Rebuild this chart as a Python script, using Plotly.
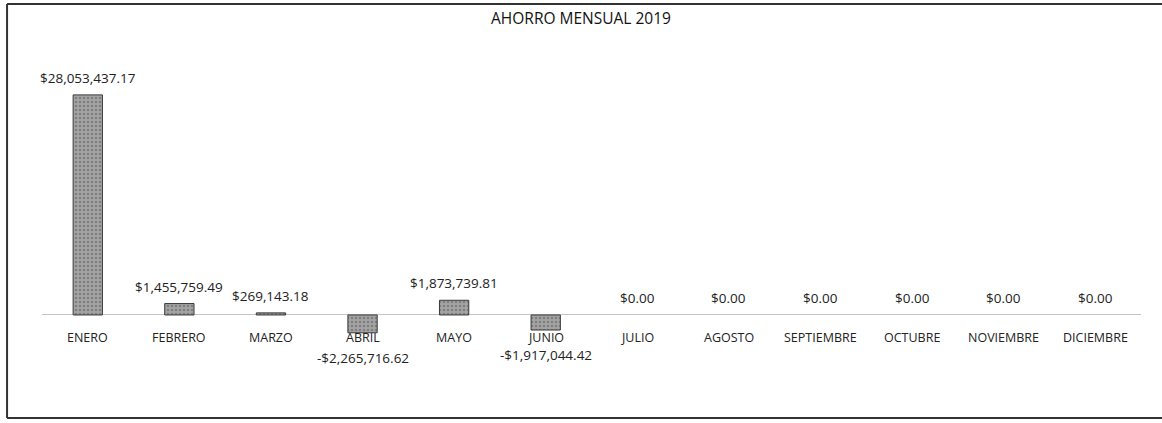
import plotly.graph_objects as go

months = ["ENERO", "FEBRERO", "MARZO", "ABRIL", "MAYO", "JUNIO", "JULIO",
          "AGOSTO", "SEPTIEMBRE", "OCTUBRE", "NOVIEMBRE", "DICIEMBRE"]
savings = [28053437.17, 1455759.49, 269143.18, -2265716.62, 1873739.81,
           -1917044.42, 0.0, 0.0, 0.0, 0.0, 0.0, 0.0]
title_text = "AHORRO MENSUAL 2019"


def money(v):
    s = "${:,.2f}".format(abs(v))
    return "-" + s if v < 0 else s


FONT = "Open Sans"

fig = go.Figure()
fig.add_trace(go.Bar(
    x=months, y=savings,
    marker=dict(color="#a4a4a4",
                line=dict(color="#3a3a3a", width=[1 if v != 0 else 0 for v in savings]),
                pattern=dict(shape=".", fgcolor="#5a5a5a", size=4, solidity=0.35)),
    width=0.32, hoverinfo="skip",
))

annotations = []
for m, v in zip(months, savings):
    annotations.append(dict(x=m, y=v, text=money(v), showarrow=False,
                            xref="x", yref="y",
                            yanchor="bottom" if v >= 0 else "top",
                            yshift=6 if v >= 0 else -14,
                            font=dict(family=FONT, size=13.5, color="#222222")))
    annotations.append(dict(x=m, y=0, text=m, showarrow=False, xref="x", yref="y",
                            yanchor="top", yshift=-12,
                            font=dict(family=FONT, size=12.5, color="#222222")))

fig.update_layout(
    width=1162, height=423,
    margin=dict(l=42, r=21, t=60, b=28),
    paper_bgcolor="white", plot_bgcolor="white",
    showlegend=False,
    title=dict(text=title_text, x=0.5, xanchor="center", y=1 - 19 / 423,
               yanchor="middle", font=dict(family=FONT, size=15.5, color="#111111")),
    xaxis=dict(showticklabels=False, showline=False, showgrid=False, ticks="",
               range=[-0.5, 11.5]),
    yaxis=dict(range=[-10.2e6, 32.5e6], showticklabels=False, showgrid=False,
               showline=False, ticks="", zeroline=True, zerolinecolor="#c4c4c4",
               zerolinewidth=1),
    annotations=annotations,
    shapes=[
        dict(type="line", xref="paper", yref="paper", x0=-0.0318, x1=-0.0318,
             y0=-0.0687, y1=1.167, line=dict(color="#333333", width=2)),
        dict(type="line", xref="paper", yref="paper", x0=-0.0318, x1=1.05,
             y0=1.167, y1=1.167, line=dict(color="#333333", width=2)),
        dict(type="line", xref="paper", yref="paper", x0=-0.0318, x1=1.05,
             y0=-0.0687, y1=-0.0687, line=dict(color="#333333", width=2)),
    ],
)

fig.write_html("out.html")
